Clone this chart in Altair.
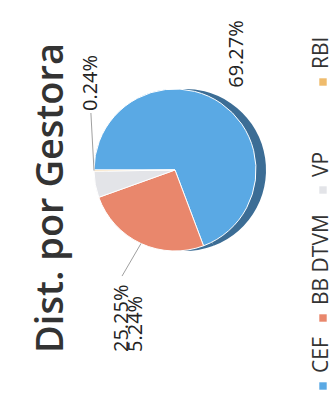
import math
import altair as alt
import pandas as pd

# ---- data ----
gestoras = ["CEF", "BB DTVM", "VP", "RBI"]
percentuais = [69.27, 25.25, 5.24, 0.24]
rotulos = ["69.27%", "25.25%", "5.24%", "0.24%"]
cores = ["#5AA9E4", "#E9876C", "#E3E4E8", "#EFBB6C"]
titulo = "Dist. por Gestora"

df = pd.DataFrame({
    "gestora": gestoras,
    "valor": percentuais,
    "rotulo": rotulos,
    "ordem": list(range(len(gestoras))),
})

# ---- layout / style ----
W, H = 333, 398
CX, CY, R = 175, 170, 81
DEPTH = 10
START = 3 * math.pi / 2
FONT = "Open Sans"

theta = alt.Theta("valor:Q", stack=True,
                  scale=alt.Scale(range=[START, START + 2 * math.pi]))
color = alt.Color("gestora:N", scale=alt.Scale(domain=gestoras, range=cores), legend=None)
order = alt.Order("ordem:Q")

base = alt.Chart(df)

depth = base.mark_arc(outerRadius=R, color="#3C6D95").encode(
    theta=theta, order=order, x=alt.value(CX + DEPTH), y=alt.value(CY))

pie = base.mark_arc(outerRadius=R, stroke="white", strokeWidth=1).encode(
    theta=theta, color=color, order=order, x=alt.value(CX), y=alt.value(CY))

# mid angle of every slice, computed from the data
angled = base.transform_joinaggregate(total="sum(valor)").transform_window(
    cum="sum(valor)", sort=[alt.SortField("ordem")], frame=[None, 0]
).transform_calculate(
    mid=f"{START} + (datum.cum - datum.valor / 2) / datum.total * 2 * PI"
)

# label placement: radius, angular shift (deg), alignment, leader line end offset
label_cfg = {
    "CEF": (131.5, -6.6, "center", None),
    "RBI": (121, 46.4, "center", 30),
    "BB DTVM": (189.6, -8.6, "left", -76),
    "VP": (186.1, -67.6, "left", None),
}
label_layers = []
for g, (r, off, al, lead) in label_cfg.items():
    sub = angled.transform_filter(f"datum.gestora == '{g}'").transform_calculate(
        a=f"datum.mid + {math.radians(off)}",
    ).transform_calculate(
        lx=f"{CX} + {r} * sin(datum.a)",
        ly=f"{CY} - {r} * cos(datum.a)",
        px=f"{CX} + {R} * sin(datum.mid)",
        py=f"{CY} - {R} * cos(datum.mid)",
    )
    label_layers.append(
        sub.mark_text(angle=270, fontSize=20, font=FONT, color="#222222",
                      align=al, baseline="middle").encode(
            text="rotulo:N",
            x=alt.X("lx:Q", scale=None, axis=None),
            y=alt.Y("ly:Q", scale=None, axis=None))
    )
    if lead is not None:
        label_layers.append(
            sub.transform_calculate(ey=f"datum.ly + {lead}").mark_rule(
                color="#A0A0A0", strokeWidth=1).encode(
                x=alt.X("px:Q", scale=None, axis=None),
                y=alt.Y("py:Q", scale=None, axis=None),
                x2="lx:Q", y2="ey:Q")
        )

title = alt.Chart(pd.DataFrame({"t": [titulo]})).mark_text(
    angle=270, fontSize=38, font=FONT, fontWeight=600, color="#333333",
    align="center", baseline="middle").encode(
    text="t:N", x=alt.value(52), y=alt.value(198))

# manual rotated legend
LEG_X = 322
LEG_Y = {"CEF": 386, "BB DTVM": 318, "VP": 190, "RBI": 82}
legend_layers = []
for g in gestoras:
    yy = LEG_Y[g]
    sub = base.transform_filter(f"datum.gestora == '{g}'")
    legend_layers.append(sub.mark_square(size=55, opacity=1).encode(
        color=color, x=alt.value(LEG_X + 1), y=alt.value(yy)))
    legend_layers.append(sub.mark_text(angle=270, fontSize=21, font=FONT, color="#333333",
                                       align="left", baseline="middle").encode(
        text="gestora:N", x=alt.value(LEG_X), y=alt.value(yy - 13)))

chart = alt.layer(depth, pie, *label_layers, title, *legend_layers).properties(
    width=W, height=H, padding=0, autosize="none"
).configure_view(stroke=None)

chart.save("out.html", embed_options={"renderer": "svg", "actions": False})
